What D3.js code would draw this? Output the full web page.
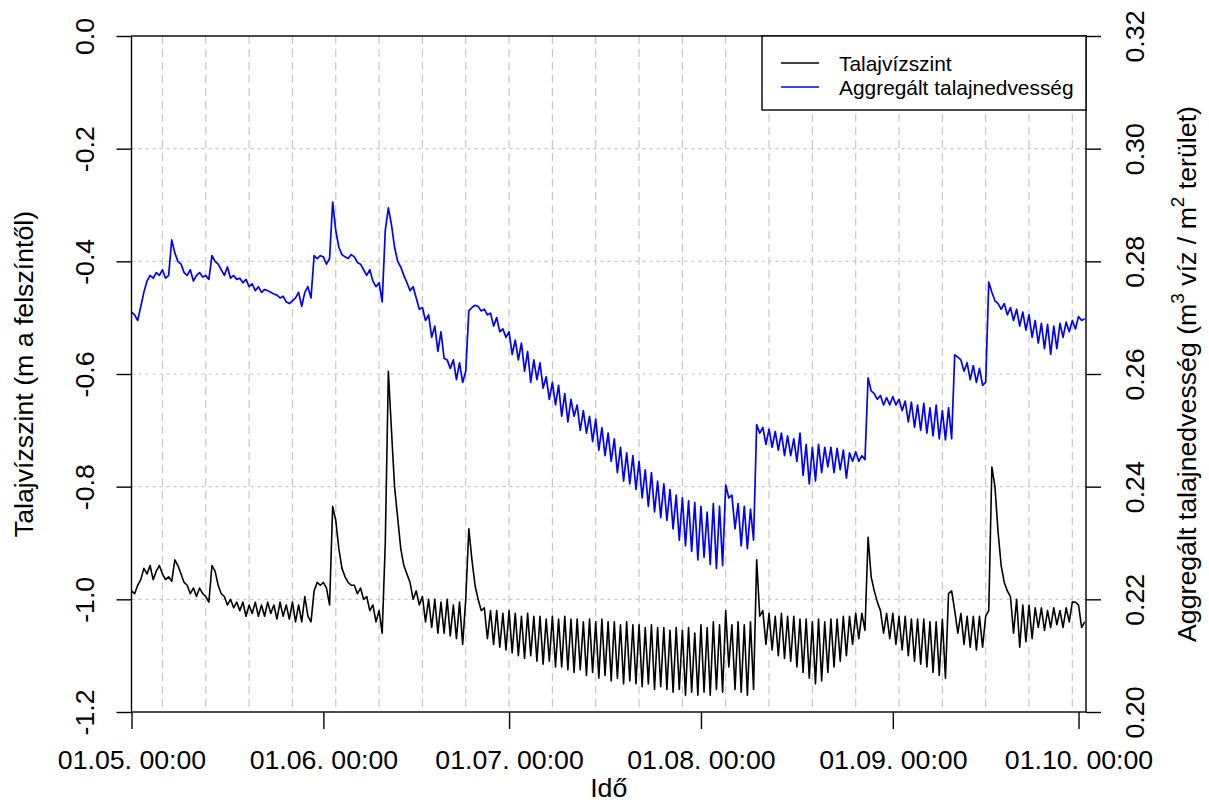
<!DOCTYPE html>
<html>
<head>
<meta charset="utf-8">
<script src="https://cdn.jsdelivr.net/npm/d3@7"></script>
<style>
  body { margin: 0; background: #fff; }
  text { font-family: "Liberation Sans", Arial, sans-serif; }
</style>
</head>
<body>
<svg id="chart" width="1209" height="803"></svg>
<script>
// Sampling: one reading every 12 hours from 1 May 2013 00:00 (UTC)
const seriesStart = Date.UTC(2013, 4, 1);
const stepHours = 12;
const axisEnd = Date.UTC(2013, 9, 2, 5);

// Groundwater level, m below surface (two readings per day)
const gwLevel = [
  -0.985,-0.99, -0.975,-0.965, -0.945,-0.955, -0.94,-0.965, -0.95,-0.94, -0.955,-0.965, -0.96,-0.968,
  -0.93,-0.94, -0.955,-0.97, -0.975,-0.99, -0.98,-0.995, -0.98,-0.99, -0.995,-1.005, -0.94,-0.95,
  -0.975,-0.99, -0.995,-1.01, -1.0,-1.015, -1.005,-1.02, -1.005,-1.03, -1.01,-1.025, -1.005,-1.03,
  -1.01,-1.03, -1.005,-1.025, -1.01,-1.035, -1.005,-1.03, -1.01,-1.035, -1.005,-1.04, -1.01,-1.04,
  -0.995,-1.03, -1.04,-0.985, -0.97,-0.975, -0.97,-0.98, -1.01,-0.835, -0.86,-0.91, -0.945,-0.96,
  -0.97,-0.975, -0.975,-0.99, -0.98,-1.0, -0.995,-1.02, -1.01,-1.04, -1.02,-1.06, -0.9,-0.595,
  -0.7,-0.8, -0.855,-0.91, -0.94,-0.955, -0.97,-1.0, -0.985,-1.01, -0.995,-1.04, -1.0,-1.05,
  -1.0,-1.06, -1.005,-1.06, -1.0,-1.065, -1.01,-1.07, -1.005,-1.08, -1.0,-0.875, -0.93,-0.975,
  -1.0,-1.02, -1.015,-1.07, -1.02,-1.08, -1.02,-1.085, -1.025,-1.09, -1.02,-1.095, -1.025,-1.1,
  -1.03,-1.105, -1.025,-1.1, -1.03,-1.11, -1.03,-1.115, -1.035,-1.11, -1.03,-1.12, -1.035,-1.12,
  -1.03,-1.125, -1.035,-1.13, -1.035,-1.125, -1.04,-1.135, -1.035,-1.13, -1.04,-1.14, -1.035,-1.135,
  -1.04,-1.145, -1.04,-1.14, -1.045,-1.15, -1.04,-1.145, -1.045,-1.15, -1.045,-1.155, -1.05,-1.15,
  -1.045,-1.16, -1.05,-1.155, -1.05,-1.16, -1.055,-1.165, -1.05,-1.16, -1.055,-1.17, -1.05,-1.165,
  -1.06,-1.17, -1.045,-1.165, -1.05,-1.17, -1.04,-1.16, -1.045,-1.165, -1.02,-1.12, -1.045,-1.16,
  -1.04,-1.165, -1.045,-1.17, -1.04,-1.16, -0.93,-1.03, -1.02,-1.08, -1.025,-1.09, -1.03,-1.1,
  -1.025,-1.105, -1.03,-1.11, -1.03,-1.12, -1.035,-1.13, -1.035,-1.14, -1.04,-1.15, -1.035,-1.145,
  -1.04,-1.13, -1.035,-1.12, -1.035,-1.11, -1.03,-1.1, -1.03,-1.08, -1.025,-1.07, -1.025,-1.055,
  -0.89,-0.96, -0.985,-1.005, -1.02,-1.06, -1.025,-1.07, -1.025,-1.08, -1.03,-1.09, -1.03,-1.1,
  -1.035,-1.11, -1.035,-1.115, -1.035,-1.12, -1.04,-1.13, -1.04,-1.135, -1.035,-1.14, -0.99,-0.985,
  -1.02,-1.06, -1.025,-1.08, -1.03,-1.085, -1.03,-1.09, -1.03,-1.085, -1.03,-1.02, -0.765,-0.8,
  -0.88,-0.94, -0.97,-0.985, -0.995,-1.06, -1.0,-1.085, -1.01,-1.075, -1.01,-1.07, -1.015,-1.05,
  -1.015,-1.055, -1.02,-1.05, -1.015,-1.045, -1.02,-1.05, -1.015,-1.04, -1.005,-1.005, -1.01,-1.05,
  -1.04
];

// Aggregated soil moisture, m3 water / m2 area (two readings per day)
const soilMoisture = [
  0.271,0.2705, 0.2695,0.272, 0.2745,0.2765, 0.2775,0.277, 0.278,0.2775, 0.2785,0.277, 0.2775,0.2838,
  0.2815,0.28, 0.2795,0.278, 0.2775,0.2785, 0.2765,0.2775, 0.278,0.2772, 0.2775,0.2768, 0.281,0.28,
  0.2795,0.2785, 0.2775,0.279, 0.277,0.2775, 0.2768,0.277, 0.2762,0.2768, 0.2755,0.276, 0.2748,0.2755,
  0.2745,0.275, 0.2748,0.2745, 0.2742,0.274, 0.2735,0.2738, 0.2728,0.2725, 0.273,0.2735, 0.2745,0.272,
  0.2745,0.2755, 0.2735,0.281, 0.2805,0.281, 0.2808,0.2795, 0.2805,0.2905, 0.2855,0.2825, 0.2812,0.2808,
  0.2805,0.2812, 0.2808,0.2798, 0.2795,0.2785, 0.2775,0.2785, 0.2765,0.2755, 0.2762,0.2728, 0.2855,0.2895,
  0.2865,0.2825, 0.28,0.279, 0.2775,0.2762, 0.2748,0.2755, 0.2735,0.2715, 0.2718,0.2695, 0.2705,0.2665,
  0.2685,0.264, 0.2675,0.2628, 0.2625,0.261, 0.2625,0.259, 0.262,0.2585, 0.2605,0.2712, 0.2718,0.2722,
  0.272,0.2712, 0.2715,0.2705, 0.2708,0.2685, 0.27,0.2675, 0.268,0.2665, 0.2675,0.2635, 0.266,0.2625,
  0.2655,0.2605, 0.264,0.2585, 0.2625,0.259, 0.262,0.2575, 0.2595,0.2555, 0.2585,0.2545, 0.258,0.2525,
  0.2565,0.2515, 0.2555,0.2525, 0.2545,0.25, 0.2535,0.2495, 0.2525,0.248, 0.252,0.2465, 0.2505,0.2455,
  0.2495,0.2445, 0.2485,0.2425, 0.247,0.241, 0.246,0.2405, 0.2455,0.2395, 0.2445,0.238, 0.243,0.2365,
  0.2425,0.2355, 0.241,0.2345, 0.2405,0.234, 0.2395,0.2325, 0.2385,0.2305, 0.238,0.2295, 0.2375,0.2285,
  0.2372,0.227, 0.2365,0.2275, 0.2355,0.2262, 0.237,0.2255, 0.2365,0.226, 0.2403,0.238, 0.2385,0.2325,
  0.237,0.2295, 0.2365,0.229, 0.236,0.2305, 0.251,0.2495, 0.2505,0.2475, 0.2502,0.247, 0.2498,0.2465,
  0.2495,0.2455, 0.249,0.2455, 0.2485,0.2445, 0.2495,0.242, 0.2475,0.2405, 0.247,0.241, 0.2475,0.2425,
  0.247,0.2435, 0.247,0.2425, 0.2468,0.243, 0.2465,0.2415, 0.246,0.2445, 0.2462,0.2445, 0.2455,0.2448,
  0.2593,0.257, 0.2565,0.2555, 0.2562,0.2545, 0.2558,0.2545, 0.256,0.2545, 0.2555,0.2535, 0.2552,0.2515,
  0.255,0.2505, 0.2545,0.25, 0.2548,0.2495, 0.254,0.249, 0.2545,0.2485, 0.2535,0.2483, 0.254,0.2485,
  0.2634,0.263, 0.2625,0.2605, 0.262,0.259, 0.2615,0.2585, 0.261,0.258, 0.2585,0.2763, 0.2745,0.273,
  0.2725,0.2715, 0.2725,0.2705, 0.2718,0.2695, 0.2715,0.2685, 0.271,0.2678, 0.2705,0.2665, 0.2695,0.2655,
  0.269,0.2645, 0.2688,0.2635, 0.2685,0.2645, 0.269,0.2665, 0.2692,0.2675, 0.2695,0.268, 0.2702,0.2695,
  0.2698
];

const leftTicks = [0, -0.2, -0.4, -0.6, -0.8, -1.0, -1.2];
const rightTicks = [0.20, 0.22, 0.24, 0.26, 0.28, 0.30, 0.32];
const monthTicks = [Date.UTC(2013,4,1), Date.UTC(2013,5,1), Date.UTC(2013,6,1),
                    Date.UTC(2013,7,1), Date.UTC(2013,8,1), Date.UTC(2013,9,1)];
const monthLabels = ["01.05. 00:00", "01.06. 00:00", "01.07. 00:00",
                     "01.08. 00:00", "01.09. 00:00", "01.10. 00:00"];
const legendLabels = ["Talajvízszint", "Aggregált talajnedvesség"];
const seriesColors = ["#000000", "#0000ff"];

const plot = { left: 131.5, right: 1086, top: 36, bottom: 712 };
const tickFont = 26.7;

const svg = d3.select("#chart");

const x = d3.scaleUtc().domain([seriesStart, axisEnd]).range([plot.left, plot.right]);
const yLeft = d3.scaleLinear().domain([-1.2, 0]).range([plot.bottom, plot.top]);
const yRight = d3.scaleLinear().domain([0.20, 0.32]).range([plot.bottom, plot.top]);

const timeAt = i => seriesStart + i * stepHours * 3600e3;

// grid: weekly (Monday) dashed verticals, dotted horizontals at the left ticks
const grid = svg.append("g");
grid.selectAll("line.v")
  .data(d3.utcMonday.range(new Date(seriesStart + 864e5), new Date(axisEnd)))
  .join("line")
  .attr("x1", d => x(d)).attr("x2", d => x(d))
  .attr("y1", plot.top).attr("y2", plot.bottom)
  .attr("stroke", "#c8c8c8").attr("stroke-width", 1.2)
  .attr("stroke-dasharray", "8,5");
grid.selectAll("line.h")
  .data(leftTicks.slice(1, -1))
  .join("line")
  .attr("x1", plot.left).attr("x2", plot.right)
  .attr("y1", d => yLeft(d)).attr("y2", d => yLeft(d))
  .attr("stroke", "#c8c8c8").attr("stroke-width", 1.2)
  .attr("stroke-dasharray", "3,4");

// series
svg.append("clipPath").attr("id", "plotClip")
  .append("rect")
  .attr("x", plot.left).attr("y", plot.top)
  .attr("width", plot.right - plot.left).attr("height", plot.bottom - plot.top);

const series = svg.append("g").attr("clip-path", "url(#plotClip)");
series.append("path")
  .datum(gwLevel)
  .attr("fill", "none").attr("stroke", seriesColors[0]).attr("stroke-width", 1.6)
  .attr("stroke-linejoin", "round")
  .attr("d", d3.line().x((d, i) => x(timeAt(i))).y(d => yLeft(d)));
series.append("path")
  .datum(soilMoisture)
  .attr("fill", "none").attr("stroke", seriesColors[1]).attr("stroke-width", 1.7)
  .attr("stroke-linejoin", "round")
  .attr("d", d3.line().x((d, i) => x(timeAt(i))).y(d => yRight(d)));

// plot frame
svg.append("rect")
  .attr("x", plot.left).attr("y", plot.top)
  .attr("width", plot.right - plot.left).attr("height", plot.bottom - plot.top)
  .attr("fill", "none").attr("stroke", "#000").attr("stroke-width", 1.4);

function styleAxis(g) {
  g.select(".domain").remove();
  g.selectAll(".tick line").attr("stroke", "#000").attr("stroke-width", 1.4);
  g.selectAll(".tick text")
    .attr("fill", "#000")
    .style("font-size", tickFont + "px")
    .style("font-family", '"Liberation Sans", Arial, sans-serif');
}

// bottom axis
svg.append("g")
  .attr("transform", `translate(0,${plot.bottom})`)
  .call(d3.axisBottom(x).tickValues(monthTicks.map(t => new Date(t)))
        .tickFormat((d, i) => monthLabels[i]).tickSize(17).tickPadding(21))
  .call(styleAxis);

// left axis, labels parallel to the axis
svg.append("g")
  .attr("transform", `translate(${plot.left},0)`)
  .call(d3.axisLeft(yLeft).tickValues(leftTicks).tickFormat(d => d.toFixed(1)).tickSize(15))
  .call(styleAxis)
  .call(g => g.selectAll(".tick text")
    .attr("x", 0).attr("y", -38).attr("dy", 0)
    .attr("text-anchor", "middle").attr("transform", "rotate(-90)"));

// right axis, labels parallel to the axis
svg.append("g")
  .attr("transform", `translate(${plot.right},0)`)
  .call(d3.axisRight(yRight).tickValues(rightTicks).tickFormat(d => d.toFixed(2)).tickSize(15))
  .call(styleAxis)
  .call(g => g.selectAll(".tick text")
    .attr("x", 0).attr("y", 58).attr("dy", 0)
    .attr("text-anchor", "middle").attr("transform", "rotate(-90)"));

// axis titles
const midY = (plot.top + plot.bottom) / 2;
svg.append("text")
  .attr("x", (plot.left + plot.right) / 2).attr("y", 797)
  .attr("text-anchor", "middle").style("font-size", tickFont + "px")
  .text("Idő");
svg.append("text")
  .attr("transform", `translate(33,${midY}) rotate(-90)`)
  .attr("text-anchor", "middle").style("font-size", tickFont + "px")
  .text("Talajvízszint (m a felszíntől)");

const rightTitle = svg.append("text")
  .attr("transform", `translate(1195.5,${midY}) rotate(-90)`)
  .attr("text-anchor", "middle").style("font-size", tickFont + "px");
rightTitle.append("tspan").text("Aggregált talajnedvesség (m");
rightTitle.append("tspan").attr("dy", -12).style("font-size", "19px").text("3");
rightTitle.append("tspan").attr("dy", 12).text(" víz / m");
rightTitle.append("tspan").attr("dy", -12).style("font-size", "19px").text("2");
rightTitle.append("tspan").attr("dy", 12).text(" terület)");

// legend
const legend = svg.append("g");
legend.append("rect")
  .attr("x", 762).attr("y", plot.top).attr("width", plot.right - 762).attr("height", 74)
  .attr("fill", "#fff").attr("stroke", "#000").attr("stroke-width", 1.4);
legendLabels.forEach((label, i) => {
  const cy = 63 + i * 24;
  legend.append("line")
    .attr("x1", 781).attr("x2", 819).attr("y1", cy).attr("y2", cy)
    .attr("stroke", seriesColors[i]).attr("stroke-width", 1.6);
  legend.append("text")
    .attr("x", 839).attr("y", cy + 7.5)
    .style("font-size", "20.9px")
    .text(label);
});
</script>
</body>
</html>
